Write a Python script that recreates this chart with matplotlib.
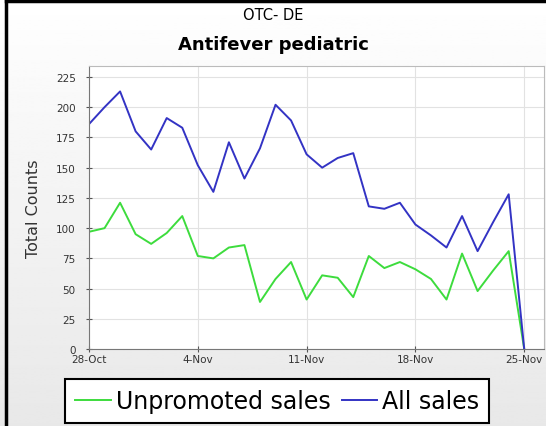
import numpy as np
import pandas as pd
import matplotlib
matplotlib.use("Agg")
import matplotlib.pyplot as plt
from matplotlib.lines import Line2D

# data (daily counts, 28-Oct .. 25-Nov)
dates = pd.date_range("2012-10-28", "2012-11-25", freq="D")
all_sales = [186, 200, 213, 180, 165, 191, 183, 152, 130, 171, 141, 166, 202,
             189, 161, 150, 158, 162, 118, 116, 121, 103, 94, 84, 110, 81,
             105, 128, 0]
unpromoted_sales = [97, 100, 121, 95, 87, 96, 110, 77, 75, 84, 86, 39, 58,
                    72, 41, 61, 59, 43, 77, 67, 72, 66, 58, 41, 79, 48, 65,
                    81, 0]
tick_dates = pd.to_datetime(["2012-10-28", "2012-11-04", "2012-11-11",
                             "2012-11-18", "2012-11-25"])
tick_labels = ["28-Oct", "4-Nov", "11-Nov", "18-Nov", "25-Nov"]
y_ticks = [0, 25, 50, 75, 100, 125, 150, 175, 200, 225]

fig = plt.figure(figsize=(5.46, 4.27), dpi=100)

# light gradient background behind everything
bg = fig.add_axes([0, 0, 1, 1], zorder=-10)
grad = np.concatenate([np.linspace(1.0, 0.975, 60), np.linspace(0.975, 0.91, 196)])
bg.imshow(grad.reshape(-1, 1), cmap="gray", vmin=0, vmax=1, aspect="auto",
          extent=[0, 1, 0, 1])
bg.set_axis_off()

# black frame on the left and top edges
fig.add_artist(Line2D([0.0115, 0.0115], [0, 0.995], transform=fig.transFigure,
                      color="black", lw=2.5))
fig.add_artist(Line2D([0.0115, 1], [0.995, 0.995], transform=fig.transFigure,
                      color="black", lw=2.5))

ax = fig.add_axes([0.163, 0.180, 0.833, 0.663])
ax.set_facecolor("white")

ax.plot(dates, unpromoted_sales, color="#3ddc3d", lw=1.4, label="Unpromoted sales")
ax.plot(dates, all_sales, color="#3333c4", lw=1.4, label="All sales")

ax.set_xlim(dates[0], dates[0] + pd.Timedelta(days=29.26))
ax.set_ylim(0, 234)
ax.set_xticks(tick_dates)
ax.set_xticklabels(tick_labels)
ax.set_yticks(y_ticks)

ax.grid(True, color="#e2e2e2", lw=0.8)
ax.set_axisbelow(True)
ax.tick_params(axis="both", labelsize=7.5, colors="#555555", labelcolor="#333333",
               direction="inout", length=5, width=0.8)
ax.tick_params(axis="y", pad=7)
ax.tick_params(axis="x", pad=1)
for side in ["top", "right"]:
    ax.spines[side].set_color("#bbbbbb")
    ax.spines[side].set_linewidth(0.8)
for side in ["left", "bottom"]:
    ax.spines[side].set_color("#777777")
    ax.spines[side].set_linewidth(0.8)

ax.set_ylabel("Total Counts", fontsize=11.5, color="#333333", labelpad=11)

fig.text(0.5, 0.963, "OTC- DE", ha="center", va="center", fontsize=10.5)
fig.text(0.5, 0.895, "Antifever pediatric", ha="center", va="center",
         fontsize=13, fontweight="bold")

leg = fig.legend(loc="center", bbox_to_anchor=(0.508, 0.059), ncol=2,
                 fontsize=17, frameon=True, fancybox=False, edgecolor="black",
                 handlelength=1.5, handletextpad=0.2, columnspacing=0.5,
                 borderpad=0.42, borderaxespad=0)
leg.get_frame().set_linewidth(1.5)
leg.get_frame().set_facecolor("white")
leg.get_frame().set_alpha(1)

fig.savefig("out.png", dpi=100)
